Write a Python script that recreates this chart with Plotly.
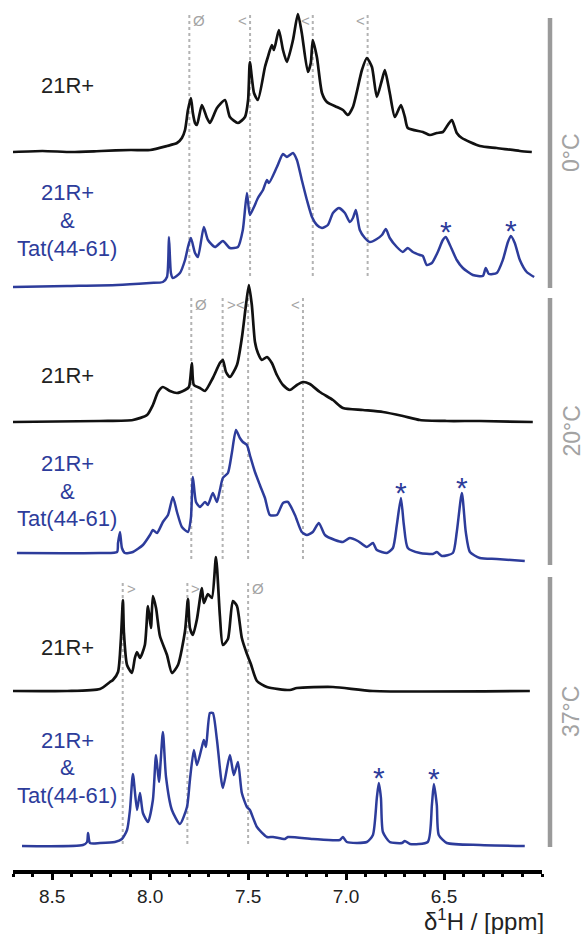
import numpy as np
import plotly.graph_objects as go

# ---------------- data ----------------
# 0 °C, free 21R+
ppm_0C_free = [8.70, 8.55, 8.40, 8.25, 8.10, 8.00, 7.914, 7.863, 7.838, 7.822,
               7.807, 7.792, 7.782, 7.771, 7.761, 7.736, 7.710, 7.695, 7.659, 7.618,
               7.593, 7.552, 7.516, 7.500, 7.491, 7.470, 7.450, 7.414, 7.399, 7.379,
               7.368, 7.343, 7.322, 7.302, 7.271, 7.246, 7.226, 7.195, 7.180, 7.170,
               7.149, 7.123, 7.098, 7.047, 7.016, 6.991, 6.965, 6.919, 6.894, 6.868,
               6.843, 6.817, 6.802, 6.777, 6.751, 6.720, 6.700, 6.685, 6.608, 6.572,
               6.537, 6.506, 6.481, 6.460, 6.435, 6.409, 6.317, 6.231, 6.113, 6.052]
int_0C_free = [0, 1, 0, 1, 2, 2, 6, 9, 14, 22,
               42, 54, 39, 29, 27, 47, 34, 29, 44, 52,
               35, 29, 35, 52, 90, 59, 52, 85, 95, 107,
               102, 122, 102, 90, 112, 138, 119, 80, 89, 112,
               95, 59, 50, 45, 42, 37, 45, 82, 94, 85,
               55, 72, 82, 59, 35, 47, 35, 24, 20, 17,
               19, 20, 27, 32, 19, 14, 6, 4, 1, 0]

# 0 °C, 21R+ & Tat(44-61)
ppm_0C_tat = [8.70, 8.424, 8.169, 8.001, 7.935, 7.914, 7.904, 7.894, 7.884, 7.848,
              7.822, 7.807, 7.792, 7.771, 7.756, 7.726, 7.705, 7.669, 7.629, 7.593,
              7.552, 7.527, 7.506, 7.491, 7.470, 7.450, 7.424, 7.404, 7.394, 7.353,
              7.322, 7.302, 7.287, 7.271, 7.251, 7.226, 7.200, 7.174, 7.149, 7.123,
              7.093, 7.067, 7.037, 7.006, 6.981, 6.965, 6.950, 6.930, 6.904, 6.879,
              6.843, 6.817, 6.797, 6.777, 6.741, 6.710, 6.685, 6.659, 6.623, 6.608,
              6.588, 6.562, 6.532, 6.506, 6.491, 6.470, 6.435, 6.404, 6.353, 6.302,
              6.287, 6.271, 6.231, 6.200, 6.174, 6.159, 6.139, 6.113, 6.078, 6.040]
int_0C_tat = [0, 1, 2, 4, 5, 10, 50, 14, 9, 14,
              27, 40, 49, 34, 30, 60, 47, 40, 46, 39,
              40, 57, 94, 72, 80, 89, 97, 107, 104, 120,
              133, 130, 132, 134, 127, 107, 87, 70, 62, 59,
              62, 74, 79, 74, 65, 69, 77, 57, 49, 45,
              48, 52, 58, 49, 40, 35, 39, 35, 32, 31,
              22, 24, 35, 47, 50, 42, 27, 19, 12, 11,
              19, 13, 14, 27, 45, 51, 44, 27, 15, 10]

# 20 °C, free 21R+
ppm_20C_free = [8.70, 8.256, 8.088, 8.016, 7.986, 7.960, 7.935, 7.899, 7.863, 7.822,
                7.802, 7.787, 7.777, 7.746, 7.720, 7.680, 7.644, 7.629, 7.613, 7.593,
                7.557, 7.532, 7.511, 7.496, 7.481, 7.465, 7.450, 7.430, 7.404, 7.379,
                7.353, 7.322, 7.287, 7.251, 7.220, 7.185, 7.134, 7.067, 7.016, 6.914,
                6.812, 6.710, 6.623, 6.486, 6.317, 6.047]
int_20C_free = [0, 1, 2, 7, 17, 30, 35, 31, 29, 32,
                35, 59, 37, 34, 31, 44, 59, 62, 50, 45,
                57, 84, 117, 137, 117, 80, 69, 62, 65, 59,
                47, 37, 32, 37, 40, 38, 30, 22, 14, 12,
                10, 6, 2, 1, 1, 0]

# 20 °C, 21R+ & Tat(44-61)
ppm_20C_tat = [8.680, 8.256, 8.169, 8.164, 8.154, 8.144, 8.129, 8.088, 8.037, 8.001,
               7.986, 7.965, 7.935, 7.909, 7.884, 7.863, 7.838, 7.807, 7.792, 7.782,
               7.766, 7.746, 7.720, 7.705, 7.680, 7.659, 7.644, 7.629, 7.603, 7.583,
               7.562, 7.542, 7.527, 7.506, 7.491, 7.465, 7.440, 7.414, 7.389, 7.353,
               7.322, 7.297, 7.261, 7.226, 7.200, 7.170, 7.139, 7.108, 7.057, 7.016,
               6.981, 6.940, 6.894, 6.863, 6.843, 6.792, 6.761, 6.741, 6.720, 6.705,
               6.685, 6.623, 6.557, 6.537, 6.511, 6.455, 6.435, 6.409, 6.389, 6.368,
               6.317, 6.231, 6.088]
int_20C_tat = [8, 8, 9, 18, 29, 13, 8, 9, 16, 26,
               31, 28, 39, 46, 64, 49, 34, 29, 43, 84,
               59, 54, 59, 56, 68, 59, 71, 83, 88, 108,
               131, 123, 119, 116, 106, 89, 76, 63, 46, 46,
               58, 59, 46, 29, 26, 29, 38, 26, 21, 19,
               23, 20, 14, 18, 11, 8, 13, 36, 63, 36,
               13, 8, 7, 9, 5, 8, 29, 68, 29, 9,
               3, 2, 0]

# 37 °C, free 21R+
ppm_37C_free = [8.70, 8.424, 8.256, 8.205, 8.190, 8.164, 8.149, 8.139, 8.134, 8.118,
                8.093, 8.078, 8.067, 8.052, 8.027, 8.011, 7.996, 7.986, 7.970, 7.950,
                7.914, 7.889, 7.858, 7.822, 7.807, 7.797, 7.782, 7.761, 7.736, 7.726,
                7.705, 7.685, 7.664, 7.644, 7.629, 7.603, 7.578, 7.557, 7.532, 7.506,
                7.486, 7.455, 7.404, 7.287, 7.251, 7.067, 6.863, 6.062]
int_37C_free = [0, 0, 2, 9, 11, 19, 53, 91, 59, 26,
                18, 33, 39, 33, 46, 85, 63, 95, 83, 55,
                36, 18, 26, 60, 92, 63, 56, 72, 103, 88,
                97, 93, 134, 75, 46, 52, 90, 85, 53, 37,
                27, 10, 4, 1, 3, 4, 0, 0]

# 37 °C, 21R+ & Tat(44-61)
ppm_37C_tat = [8.654, 8.343, 8.322, 8.317, 8.307, 8.256, 8.180, 8.144, 8.118, 8.103,
               8.088, 8.067, 8.052, 8.037, 8.011, 7.986, 7.970, 7.955, 7.935, 7.919,
               7.889, 7.848, 7.812, 7.797, 7.777, 7.761, 7.736, 7.726, 7.715, 7.695,
               7.680, 7.659, 7.629, 7.593, 7.573, 7.552, 7.532, 7.506, 7.491, 7.455,
               7.404, 7.373, 7.312, 7.297, 7.169, 7.032, 7.016, 6.996, 6.894, 6.863,
               6.843, 6.833, 6.822, 6.812, 6.777, 6.715, 6.700, 6.674, 6.583, 6.562,
               6.552, 6.537, 6.527, 6.486, 6.317, 6.088]
int_37C_tat = [0, 1, 4, 13, 3, 3, 4, 7, 16, 36,
               72, 36, 53, 33, 24, 46, 91, 64, 114, 69,
               36, 22, 39, 66, 96, 81, 99, 106, 99, 133,
               133, 106, 58, 91, 71, 84, 53, 39, 36, 19,
               9, 9, 7, 9, 7, 6, 9, 4, 4, 11,
               48, 63, 48, 14, 4, 3, 5, 2, 4, 41,
               62, 41, 11, 3, 1, 0]

# reference (dotted) lines and their marks
ref_ppm_0C = [7.80, 7.49, 7.17, 6.89]
ref_mark_0C = ["Ø", "<", "<", "<"]
ref_ppm_20C = [7.79, 7.63, 7.50, 7.22]
ref_mark_20C = ["Ø", ">", "<", "<"]
ref_ppm_37C = [8.14, 7.81, 7.50]
ref_mark_37C = [">", ">", "Ø"]

# Tat(44-61) peaks marked with an asterisk
tat_peaks_0C = [6.491, 6.159]
tat_peaks_20C = [6.720, 6.409]
tat_peaks_37C = [6.833, 6.552]

temperatures = ["0°C", "20°C", "37°C"]
label_free = "21R+"
label_tat = ["21R+", "&", "Tat(44-61)"]
tick_vals = [8.5, 8.0, 7.5, 7.0, 6.5]
tick_text = ["8.5", "8.0", "7.5", "7.0", "6.5"]
axis_title = "δ<sup>1</sup>H / [ppm]"

# ---------------- styling / layout ----------------
W, H = 585, 934
ML, MR, MT, MB = 13, 43, 0, 64
PLOT_H = H - MT - MB          # y data units == pixels
FONT = "Liberation Sans, Arial, sans-serif"
BLACK = "#111111"
BLUE = "#2d3c9b"
GRAY = "#a3a3a3"
DOT = "#b3b3b3"


def py(pix):          # pixel row -> y data value
    return PLOT_H - pix


def px_paper(pix):    # pixel column -> paper x
    return (pix - ML) / (W - ML - MR)


fig = go.Figure()

panels = [
    dict(free=(ppm_0C_free, int_0C_free), tat=(ppm_0C_tat, int_0C_tat),
         base_free=152, base_tat=287, refs=(ref_ppm_0C, ref_mark_0C), ref_span=(15, 279),
         mark_y=20, stars=tat_peaks_0C, bar=(18, 288), lab_free=85, lab_tat=(193, 220, 248)),
    dict(free=(ppm_20C_free, int_20C_free), tat=(ppm_20C_tat, int_20C_tat),
         base_free=422, base_tat=561, refs=(ref_ppm_20C, ref_mark_20C), ref_span=(298, 562),
         mark_y=304, stars=tat_peaks_20C, bar=(298, 565), lab_free=375, lab_tat=(463, 491, 518)),
    dict(free=(ppm_37C_free, int_37C_free), tat=(ppm_37C_tat, int_37C_tat),
         base_free=691, base_tat=846, refs=(ref_ppm_37C, ref_mark_37C), ref_span=(583, 847),
         mark_y=588, stars=tat_peaks_37C, bar=(577, 847), lab_free=648, lab_tat=(740, 767, 795)),
]

shapes = []
annotations = []

for i, p in enumerate(panels):
    # dotted reference lines (drawn below spectra)
    for ppm, mark in zip(*p["refs"]):
        shapes.append(dict(type="line", xref="x", yref="y", x0=ppm, x1=ppm,
                           y0=py(p["ref_span"][0]), y1=py(p["ref_span"][1]),
                           line=dict(color=DOT, width=2, dash="dot"), layer="below"))
        left = mark == "<"
        annotations.append(dict(x=ppm, y=py(p["mark_y"]), xref="x", yref="y", text=mark,
                                showarrow=False, xanchor="right" if left else "left",
                                yanchor="middle", xshift=-1 if left else 2,
                                font=dict(family=FONT, size=15, color=GRAY)))
    fx, fy = p["free"]
    tx, ty = p["tat"]
    off_f = py(p["base_free"])
    off_t = py(p["base_tat"])
    fig.add_trace(go.Scatter(x=fx, y=np.array(fy) + off_f, mode="lines",
                             line=dict(color=BLACK, width=2.7, shape="spline", smoothing=0.6),
                             hoverinfo="skip", showlegend=False))
    fig.add_trace(go.Scatter(x=tx, y=np.array(ty) + off_t, mode="lines",
                             line=dict(color=BLUE, width=2.5, shape="spline", smoothing=0.6),
                             hoverinfo="skip", showlegend=False))
    # asterisks over Tat peaks
    for pk in p["stars"]:
        top = np.interp(pk, tx[::-1], ty[::-1]) + off_t
        annotations.append(dict(x=pk, y=top, xref="x", yref="y", text="*", showarrow=False,
                                xanchor="center", yanchor="bottom", yshift=-13,
                                font=dict(family=FONT, size=30, color=BLUE)))
    # sample labels
    annotations.append(dict(x=px_paper(67), y=py(p["lab_free"]) / PLOT_H, xref="paper", yref="paper",
                            text=label_free, showarrow=False, xanchor="center", yanchor="middle",
                            font=dict(family=FONT, size=22, color="#222222")))
    for line_txt, yy in zip(label_tat, p["lab_tat"]):
        annotations.append(dict(x=px_paper(67), y=py(yy) / PLOT_H, xref="paper", yref="paper",
                                text=line_txt, showarrow=False, xanchor="center", yanchor="middle",
                                font=dict(family=FONT, size=22, color=BLUE)))
    # temperature bar + label
    shapes.append(dict(type="line", xref="paper", yref="y", x0=px_paper(550), x1=px_paper(550),
                       y0=py(p["bar"][0]), y1=py(p["bar"][1]),
                       line=dict(color="#9a9a9a", width=4.5)))
    annotations.append(dict(x=px_paper(571), y=py((p["bar"][0] + p["bar"][1]) / 2) / PLOT_H,
                            xref="paper", yref="paper", text=temperatures[i], showarrow=False,
                            textangle=-90, xanchor="center", yanchor="middle",
                            font=dict(family=FONT, size=23, color=GRAY)))

# axis title
annotations.append(dict(x=px_paper(546), y=(PLOT_H - 920) / PLOT_H, xref="paper", yref="paper",
                        text=axis_title, showarrow=False, xanchor="right", yanchor="middle",
                        font=dict(family=FONT, size=24, color="#222222")))

fig.update_layout(
    width=W, height=H, margin=dict(l=ML, r=MR, t=MT, b=MB),
    paper_bgcolor="white", plot_bgcolor="white",
    shapes=shapes, annotations=annotations, showlegend=False,
    xaxis=dict(range=[8.7, 6.0], tickvals=tick_vals, ticktext=tick_text,
               ticks="outside", ticklen=6, tickwidth=3, tickcolor="black",
               showline=True, linewidth=4, linecolor="black", showgrid=False, zeroline=False,
               tickfont=dict(family=FONT, size=19, color="#222222"),
               minor=dict(dtick=0.1, tick0=0.0, ticks="outside", ticklen=3, tickwidth=3,
                          tickcolor="black", showgrid=False)),
    yaxis=dict(range=[0, PLOT_H], visible=False, fixedrange=True),
)

fig.write_html("out.html", config={"displayModeBar": False},
               post_script="document.body.style.margin='0';document.body.style.overflow='hidden';")
